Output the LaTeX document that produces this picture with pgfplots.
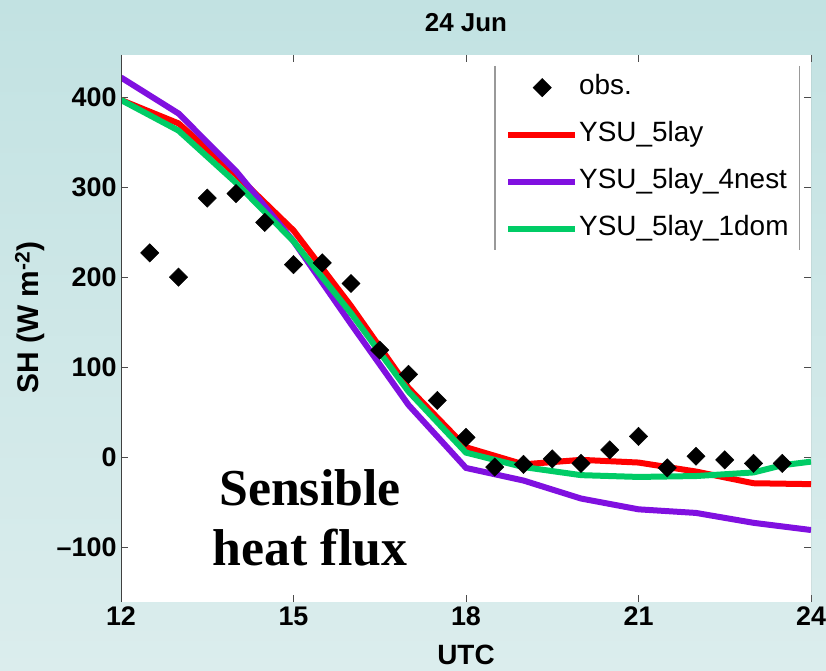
\documentclass[border=0pt]{standalone}
\usepackage{pgfplots}
\pgfplotsset{compat=1.18}
\usepackage{fontspec}
\setmainfont{Liberation Sans}
\newfontfamily\timesfont{Liberation Serif}
\definecolor{bgtop}{RGB}{194,226,226}
\definecolor{bgbot}{RGB}{219,237,237}
\definecolor{myred}{RGB}{255,0,0}
\definecolor{mypurple}{RGB}{128,16,224}
\definecolor{mygreen}{RGB}{0,204,102}
\pgfplotsset{
  obslegend/.style={legend image code/.code={\draw[##1,mark repeat=2,mark phase=2] plot coordinates {(0bp,0bp) (34bp,0bp) (67bp,0bp)};}},
  linelegend/.style={legend image code/.code={\draw[##1] (0bp,0bp) -- (67bp,0bp);}},
}
\begin{document}
\begin{tikzpicture}
\shade[top color=bgtop, bottom color=bgbot] (0bp,0bp) rectangle (826bp,671bp);
\begin{axis}[
  at={(121bp,69bp)}, anchor=south west,
  width=690bp, height=547bp, scale only axis,
  xmin=12, xmax=24, ymin=-161, ymax=447,
  xtick={12,15,18,21,24}, ytick={-100,0,100,200,300,400},
  tick align=inside, major tick length=7bp,
  tick style={black!70, line width=0.8bp},
  axis line style={draw=none},
  axis background/.style={fill=white},
  /pgf/number format/assume math mode=true,
  ticklabel style={font=\fontsize{27}{27}\selectfont\bfseries},
  xticklabel style={yshift=-1bp},
  yticklabel style={xshift=-1bp},
  yticklabels={\textendash100,0,100,200,300,400},
  title={24 Jun},
  title style={at={(0.5,1)}, anchor=center, yshift=26bp, font=\fontsize{26}{26}\selectfont\bfseries},
  xlabel={UTC},
  xlabel style={at={(0.5,0)}, anchor=center, yshift=-53bp, font=\fontsize{28}{28}\selectfont\bfseries},
  ylabel={SH (W m\textsuperscript{-2})},
  ylabel style={at={(0,0.52)}, anchor=center, yshift=91bp, font=\fontsize{30}{30}\selectfont\bfseries},
  legend cell align=left,
  legend style={name=leg, at={(0.542,0.98)}, anchor=north west, draw=none, fill=white,
    font=\fontsize{28}{28}\selectfont, inner xsep=10bp, inner ysep=8bp, row sep=20bp,
    nodes={inner sep=1bp, text height=19bp, text depth=6bp}},
]
\addplot[only marks, mark=square*, mark size=6.5bp, mark options={rotate=45, fill=black, draw=black}, obslegend]
 coordinates {
 (12.5,227) (13,200) (13.5,288) (14,293) (14.5,261) (15,214) (15.5,216) (16,193)
 (16.5,119) (17,92) (17.5,63) (18,22) (18.5,-11) (19,-8) (19.5,-2) (20,-7)
 (20.5,8) (21,23) (21.5,-12) (22,1) (22.5,-3) (23,-7) (23.5,-7)
 };
\addlegendentry{obs.}
\addplot[myred, line width=6bp, linelegend] coordinates {
 (12,397) (13,371) (14,314) (15,252) (16,168) (17,77) (18,11) (19,-8) (20,-3)
 (21,-6) (22,-16) (23,-29) (24,-30)
 };
\addlegendentry{YSU\_5lay}
\addplot[mypurple, line width=6bp, linelegend] coordinates {
 (12,422) (13,382) (14,318) (15,240) (16,148) (17,58) (18,-12) (19,-26) (20,-46)
 (21,-58) (22,-62) (23,-73) (24,-81)
 };
\addlegendentry{YSU\_5lay\_4nest}
\addplot[mygreen, line width=6bp, linelegend] coordinates {
 (12,397) (13,363) (14,305) (15,240) (16,160) (17,73) (18,5) (19,-11) (20,-20)
 (21,-22) (22,-21) (23,-17) (23.5,-9) (24,-5)
 };
\addlegendentry{YSU\_5lay\_1dom}
\node[font=\timesfont\bfseries\fontsize{52}{60}\selectfont, align=center] at (rel axis cs:0.274,0.154) {Sensible\\heat flux};
\draw[black!75, line width=1bp] (rel axis cs:0,1) -- (rel axis cs:0,0) -- (rel axis cs:1,0);
\draw[black!45, line width=1bp] (rel axis cs:1,0) -- (rel axis cs:1,1);
\end{axis}
\draw[black!40, line width=1.2bp] (leg.north west) -- (leg.south west);
\draw[black!40, line width=1.2bp] (leg.north east) -- (leg.south east);
\pgfresetboundingbox
\useasboundingbox (0bp,0bp) rectangle (826bp,671bp);
\end{tikzpicture}
\end{document}
